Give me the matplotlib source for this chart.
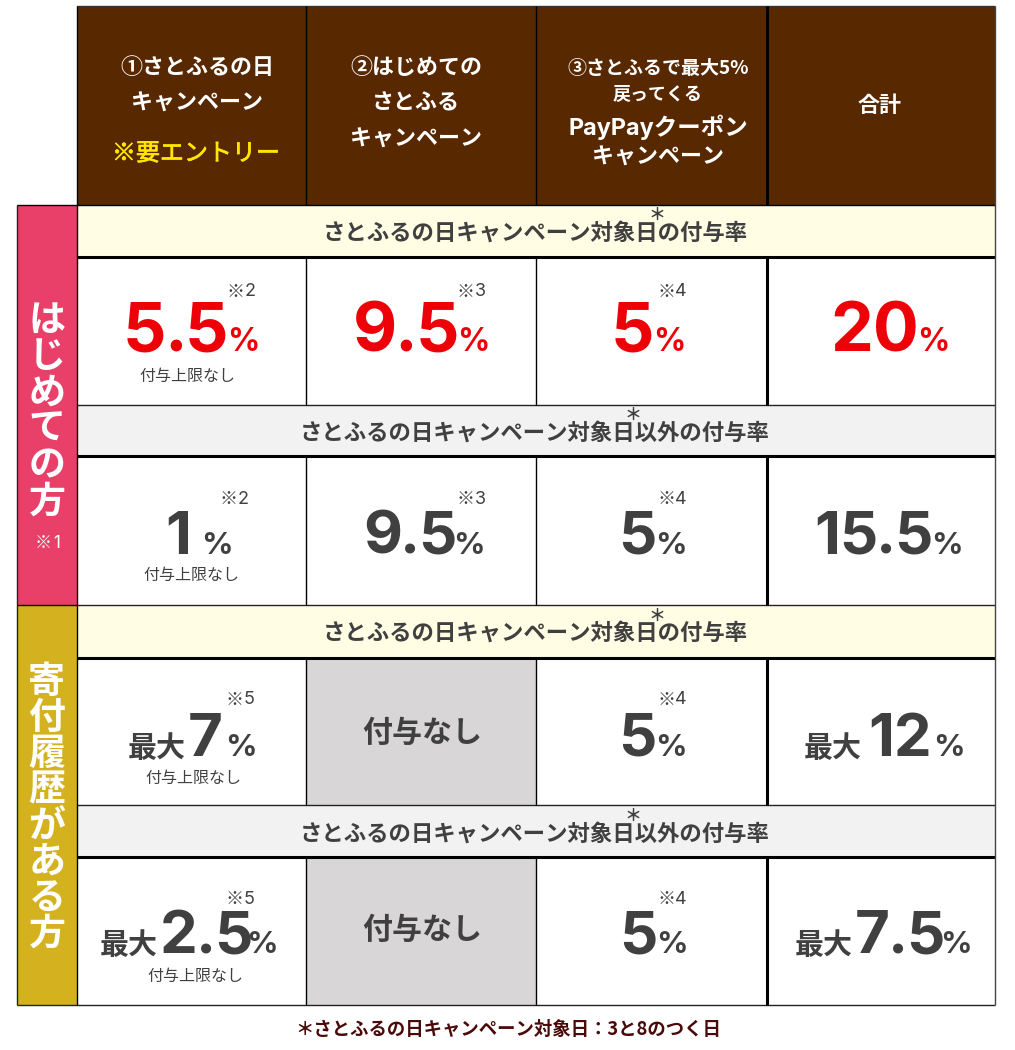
import matplotlib
matplotlib.use("Agg")
import matplotlib.pyplot as plt
import matplotlib.patheffects as pe
from matplotlib.patches import Rectangle

CJK_FIRST = ['Noto Sans CJK JP', 'Inter', 'DejaVu Sans']
LATIN_FIRST = ['Inter', 'Noto Sans CJK JP', 'DejaVu Sans']
plt.rcParams['font.family'] = CJK_FIRST

# ---- content ----
header_lines = [
    ["①さとふるの日", "キャンペーン"],
    ["②はじめての", "さとふる", "キャンペーン"],
    ["③さとふるで最大5%", "戻ってくる", "PayPayクーポン", "キャンペーン"],
    ["合計"],
]
entry_note = "※要エントリー"
group_labels = ["はじめての方", "寄付履歴がある方"]
group_note = "※1"
band_on = "さとふるの日キャンペーン対象日の付与率"
band_off = "さとふるの日キャンペーン対象日以外の付与率"
no_cap = "付与上限なし"
no_grant = "付与なし"
max_word = "最大"
star = "＊"
percent = "%"
footnote = "＊さとふるの日キャンペーン対象日：3と8のつく日"
rate_first_on = ["5.5", "9.5", "5", "20"]
rate_first_off = ["1", "9.5", "5", "15.5"]
rate_repeat_on = ["7", None, "5", "12"]
rate_repeat_off = ["2.5", None, "5", "7.5"]
notes_first_on = ["※2", "※3", "※4", None]
notes_first_off = ["※2", "※3", "※4", None]
notes_repeat_on = ["※5", None, "※4", None]
notes_repeat_off = ["※5", None, "※4", None]

# ---- palette ----
BROWN, PINK, GOLD = "#582800", "#E84068", "#D4B21F"
CREAM, PALE, GREY = "#FFFDE3", "#F2F2F2", "#D8D6D7"
RED, DARK, YELLOW, MAROON = "#EE0008", "#404040", "#FFE600", "#4A0A0A"

# ---- layout (pixels) ----
X = [17, 77, 306, 536, 767, 995]
Y = [6, 205, 257, 405, 456, 605, 658, 805, 857, 1005]
px = 0.72
DY = 2  # CJK glyph centre offset

fig = plt.figure(figsize=(10.15, 10.5), dpi=100)
ax = fig.add_axes([0, 0, 1, 1])
ax.set_xlim(0, 1015)
ax.set_ylim(1050, 0)
ax.axis("off")
renderer = fig.canvas.get_renderer()


def T(x, y, s, size, color=DARK, weight="bold", ha="center", va="center", embolden=0, family=None):
    t = ax.text(x, y + DY, s, fontsize=size * px, color=color, fontweight=weight, ha=ha, va=va,
                family=family or CJK_FIRST)
    if embolden:
        t.set_path_effects([pe.withStroke(linewidth=embolden, foreground=color)])
    return t


def box(x0, y0, x1, y1, c):
    ax.add_patch(Rectangle((x0, y0), x1 - x0, y1 - y0, fc=c, ec="none"))


def line(xs, ys, c, lw):
    ax.plot(xs, ys, color=c, lw=lw, solid_capstyle="butt")


box(X[1], Y[0], X[5], Y[1], BROWN)
box(X[0], Y[1], X[1], Y[5], PINK)
box(X[0], Y[5], X[1], Y[9], GOLD)
for i, c in zip([1, 3, 5, 7], [CREAM, PALE, CREAM, PALE]):
    box(X[1], Y[i], X[5], Y[i + 1], c)
for i in [6, 8]:
    box(X[2], Y[i], X[3], Y[i + 1], GREY)

# grid
k = "#000000"
lw1, lw2 = 1.0, 2.2
line([X[1], X[5]], [Y[0], Y[0]], "#333333", lw1)
line([X[0], X[5]], [Y[1], Y[1]], k, lw1)
line([X[0], X[5]], [Y[9], Y[9]], "#222222", lw1)
line([X[0], X[1]], [Y[5], Y[5]], k, lw1)
for i in [2, 4, 6, 8]:
    line([X[1], X[5]], [Y[i], Y[i]], k, lw2)
for i in [3, 5, 7]:
    line([X[1], X[5]], [Y[i], Y[i]], "#222222", lw1)
line([X[0], X[0]], [Y[1], Y[9]], "#222222", lw1)
line([X[1], X[1]], [Y[0], Y[9]], k, lw1)
line([X[5], X[5]], [Y[0], Y[9]], "#444444", lw1)
cell_rows = [(Y[0], Y[1]), (Y[2], Y[3]), (Y[4], Y[5]), (Y[6], Y[7]), (Y[8], Y[9])]
for y0, y1 in cell_rows:
    line([X[2], X[2]], [y0, y1], k, lw1)
    line([X[3], X[3]], [y0, y1], k, lw1)
    line([X[4], X[4]], [y0, y1], k, lw2)

# header
W = "#FFFFFF"
for s, y in zip(header_lines[0], [65, 101]):
    T(197, y, s, 22, W)
T(196, 152, entry_note, 24, YELLOW, weight="normal", embolden=0.5)
for s, y in zip(header_lines[1], [65, 101, 137]):
    T(416, y, s, 22, W)
for s, y, z in zip(header_lines[2], [66, 92, 125, 155], [19, 18, 23.5, 22]):
    T(658, y, s, z, W, family=LATIN_FIRST if s.startswith("Pay") else None)
T(880, 103, header_lines[3][0], 22, W)


def note(x, y, s, color=DARK, size=18):
    T(x - 7, y, s[0], size, color, weight="normal")
    T(x + 7, y, s[1:], size, color, weight="normal", family=LATIN_FIRST)


# vertical group labels
for i, ch in enumerate(group_labels[0]):
    T(47, 318 + i * 36.5, ch, 37, W)
note(50, 541, group_note, W, 17)
for i, ch in enumerate(group_labels[1]):
    T(47, 680 + i * 36, ch, 37, W)

# bands
for s, y, sx, sy in [(band_on, 231, 657, 215), (band_off, 431, 633, 415),
                     (band_on, 631, 657, 616), (band_off, 832, 633, 816)]:
    T(535, y, s, 22.4)
    T(sx, sy - DY, star, 17)

BIG, MID = 68, 60


def rate(value, xnum, xpct, base, color=DARK, size=MID, pct=31, prefix_x=None):
    cursor = xnum
    parts = value.split(".")
    gap = -0.035 * size
    for j, part in enumerate(parts):
        t = ax.text(cursor, base, part, fontsize=size * px, color=color, fontweight="bold",
                    ha="left", va="baseline", family=LATIN_FIRST)
        cursor = t.get_window_extent(renderer).x1 + gap
        if j < len(parts) - 1:
            t = ax.text(cursor, base, ".", fontsize=size * px, color=color, fontweight="bold",
                        ha="left", va="baseline", family=LATIN_FIRST)
            cursor = t.get_window_extent(renderer).x1 + gap
    ax.text(xpct, base, percent, fontsize=pct * px, color=color, fontweight="bold", ha="left",
            va="baseline", family=LATIN_FIRST)
    if prefix_x is not None:
        ax.text(prefix_x, base + 1, max_word, fontsize=29 * px, color=color, fontweight="bold",
                ha="left", va="baseline")


for v, a, b in zip(rate_first_on, [123, 353, 611, 830], [227, 457, 653, 917]):
    rate(v, a, b, 351, RED, size=BIG, pct=32)
for v, a, b in zip(rate_first_off, [165, 363, 618, 814], [201, 453, 655, 931]):
    rate(v, a, b, 554)
rate(rate_repeat_on[0], 188, 225, 756, prefix_x=128)
rate(rate_repeat_on[2], 618, 655, 756)
rate(rate_repeat_on[3], 868, 933, 756, prefix_x=804)
rate(rate_repeat_off[0], 160, 246, 953, prefix_x=100)
rate(rate_repeat_off[2], 619, 656, 953)
rate(rate_repeat_off[3], 855, 940, 953, prefix_x=795)

# superscript notes
for notes, y, xs in [(notes_first_on, 290, [243, 473, 674]), (notes_first_off, 497, [236, 473, 674]),
                     (notes_repeat_on, 698, [242, 0, 674]), (notes_repeat_off, 897, [242, 0, 674])]:
    for n, x in zip(notes, xs):
        if n:
            note(x, y, n)

# caption under first column
for x, y in [(187, 374), (191, 573), (193, 776), (195, 974)]:
    T(x, y, no_cap, 16, weight="normal")

# no grant cells
for y in [731, 928]:
    T(422, y, no_grant, 30)

T(508, 1027, footnote, 18.4, MAROON)

fig.savefig("out.png", dpi=100)
